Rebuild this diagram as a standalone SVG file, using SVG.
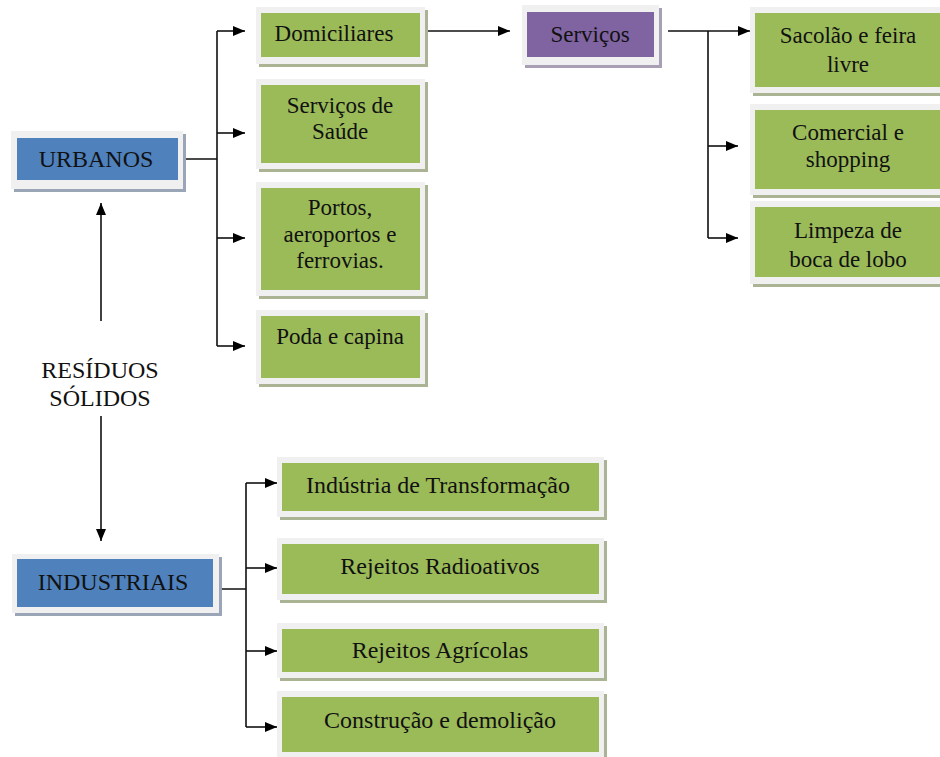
<svg xmlns="http://www.w3.org/2000/svg" width="940" height="757" viewBox="0 0 940 757">
<defs>
<marker id="ah" viewBox="0 0 12 10" refX="12" refY="5" markerWidth="12" markerHeight="10" markerUnits="userSpaceOnUse" orient="auto">
<path d="M0,0 L12,5 L0,10 Z" fill="#000"/>
</marker>
</defs>
<style>
text{font-family:"Times New Roman","Liberation Serif",Tinos,"Noto Serif","DejaVu Serif",Georgia,serif;fill:#111;text-anchor:middle}
.t{font-size:23px}
.b{font-size:24px}
.fr{fill:#f0f0f0}
.shg{fill:#aab394}
.shb{fill:#9aa6b8}
.shp{fill:#a89fb5}
.g{fill:#9bbb59}
.bl{fill:#4f81bd}
.pu{fill:#8064a2}
.c{fill:none;stroke:#111;stroke-width:1.6}
.ca{fill:none;stroke:#111;stroke-width:1.6;marker-end:url(#ah)}
</style>
<rect width="940" height="757" fill="#fff"/>

<g id="connectors">
<path class="c" d="M186,159 H217 M217,31 V346"/>
<path class="ca" d="M217,31 H245"/>
<path class="ca" d="M217,133 H245"/>
<path class="ca" d="M217,238 H245"/>
<path class="ca" d="M217,346 H245"/>
<path class="ca" d="M422,31 H510"/>
<path class="c" d="M668,31 H708 M708,31 V238"/>
<path class="ca" d="M708,31 H750"/>
<path class="ca" d="M708,146 H738"/>
<path class="ca" d="M708,238 H738"/>
<path class="ca" d="M101,321 V203"/>
<path class="ca" d="M101,416 V541"/>
<path class="c" d="M219,589 H246 M246,483 V727"/>
<path class="ca" d="M246,483 H277"/>
<path class="ca" d="M246,568 H277"/>
<path class="ca" d="M246,651 H277"/>
<path class="ca" d="M246,727 H277"/>
</g>

<g id="urbanos">
<rect class="shb" x="14" y="134" width="172" height="58"/>
<rect class="fr" x="11" y="131" width="172" height="58"/>
<rect class="bl" x="17" y="138" width="161" height="42"/>
<text class="b" x="96" y="167">URBANOS</text>
</g>

<g id="residuos">
<text class="b" x="100" y="378">RESÍDUOS</text>
<text class="b" x="100" y="406">SÓLIDOS</text>
</g>

<g id="domiciliares">
<rect class="shg" x="259" y="10" width="169" height="57"/>
<rect class="fr" x="256" y="7" width="169" height="57"/>
<rect class="g" x="261" y="13" width="159" height="44"/>
<text class="t" x="334" y="41">Domiciliares</text>
</g>

<g id="saude">
<rect class="shg" x="259" y="82" width="169" height="90"/>
<rect class="fr" x="256" y="79" width="169" height="90"/>
<rect class="g" x="261" y="85" width="159" height="78"/>
<text class="t" x="340" y="113">Serviços de</text>
<text class="t" x="340" y="139">Saúde</text>
</g>

<g id="portos">
<rect class="shg" x="259" y="185" width="169" height="114"/>
<rect class="fr" x="256" y="182" width="169" height="114"/>
<rect class="g" x="261" y="188" width="159" height="102"/>
<text class="t" x="340" y="215">Portos,</text>
<text class="t" x="340" y="242">aeroportos e</text>
<text class="t" x="340" y="268">ferrovias.</text>
</g>

<g id="poda">
<rect class="shg" x="259" y="313" width="169" height="74"/>
<rect class="fr" x="256" y="310" width="169" height="74"/>
<rect class="g" x="261" y="316" width="159" height="62"/>
<text class="t" x="340" y="344">Poda e capina</text>
</g>

<g id="servicos">
<rect class="shp" x="525" y="8" width="137" height="60"/>
<rect class="fr" x="522" y="5" width="137" height="60"/>
<rect class="pu" x="527" y="12" width="127" height="45"/>
<text class="t" x="590" y="42">Serviços</text>
</g>

<g id="sacolao">
<rect class="shg" x="753" y="10" width="200" height="86"/>
<rect class="fr" x="750" y="7" width="200" height="86"/>
<rect class="g" x="755" y="13" width="190" height="74"/>
<text class="t" x="848" y="43">Sacolão e feira</text>
<text class="t" x="848" y="72">livre</text>
</g>

<g id="comercial">
<rect class="shg" x="753" y="107" width="200" height="91"/>
<rect class="fr" x="750" y="104" width="200" height="91"/>
<rect class="g" x="755" y="110" width="190" height="79"/>
<text class="t" x="848" y="140">Comercial e</text>
<text class="t" x="848" y="167">shopping</text>
</g>

<g id="limpeza">
<rect class="shg" x="753" y="204" width="200" height="83"/>
<rect class="fr" x="750" y="201" width="200" height="83"/>
<rect class="g" x="755" y="207" width="190" height="70"/>
<text class="t" x="848" y="238">Limpeza de</text>
<text class="t" x="848" y="267">boca de lobo</text>
</g>

<g id="industriais">
<rect class="shb" x="15" y="557" width="207" height="59"/>
<rect class="fr" x="12" y="554" width="207" height="59"/>
<rect class="bl" x="17" y="559" width="196" height="48"/>
<text class="b" x="113" y="590">INDUSTRIAIS</text>
</g>

<g id="transformacao">
<rect class="shg" x="280" y="460" width="327" height="60"/>
<rect class="fr" x="277" y="457" width="327" height="60"/>
<rect class="g" x="282" y="463" width="317" height="48"/>
<text class="b" x="438" y="493">Indústria de Transformação</text>
</g>

<g id="radioativos">
<rect class="shg" x="280" y="541" width="327" height="62"/>
<rect class="fr" x="277" y="538" width="327" height="62"/>
<rect class="g" x="282" y="544" width="317" height="50"/>
<text class="b" x="440" y="574">Rejeitos Radioativos</text>
</g>

<g id="agricolas">
<rect class="shg" x="280" y="626" width="327" height="55"/>
<rect class="fr" x="277" y="623" width="327" height="55"/>
<rect class="g" x="282" y="629" width="317" height="43"/>
<text class="b" x="440" y="658">Rejeitos Agrícolas</text>
</g>

<g id="construcao">
<rect class="shg" x="280" y="694" width="327" height="66"/>
<rect class="fr" x="277" y="691" width="327" height="66"/>
<rect class="g" x="282" y="697" width="317" height="55"/>
<text class="b" x="440" y="728">Construção e demolição</text>
</g>
</svg>
